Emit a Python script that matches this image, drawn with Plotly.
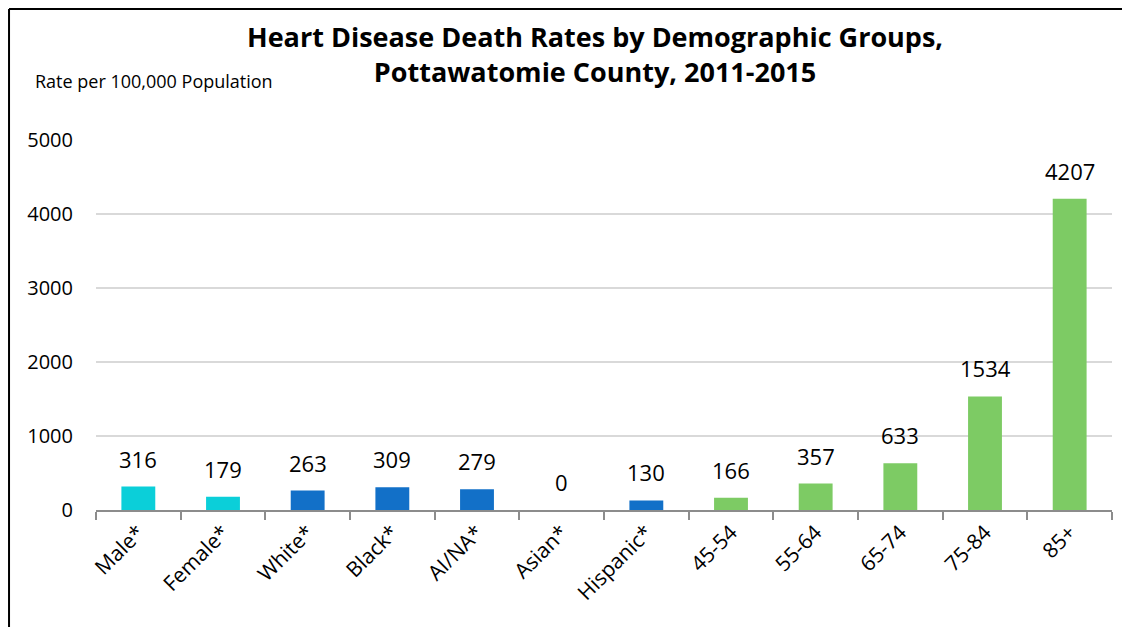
import plotly.graph_objects as go

# données du graphique
groupes = ['Male*', 'Female*', 'White*', 'Black*', 'AI/NA*', 'Asian*', 'Hispanic*',
           '45-54', '55-64', '65-74', '75-84', '85+']
taux = [316, 179, 263, 309, 279, 0, 130, 166, 357, 633, 1534, 4207]
couleurs = ['#0BCFD9'] * 2 + ['#1270C8'] * 5 + ['#7DCB64'] * 5
ticks_y = [0, 1000, 2000, 3000, 4000, 5000]

police = 'Open Sans'

fig = go.Figure(go.Bar(
    x=groupes,
    y=taux,
    marker=dict(color=couleurs, line=dict(width=0)),
))

# étiquettes de valeurs au-dessus des barres
for g, v in zip(groupes, taux):
    fig.add_annotation(
        x=g, y=v, text=str(v), showarrow=False,
        yanchor='bottom', yshift=11,
        font=dict(size=22, color='black', family=police),
    )

fig.update_layout(
    width=1130, height=627,
    margin=dict(l=88, r=26, t=132, b=125),
    paper_bgcolor='white', plot_bgcolor='white',
    font=dict(family=police, color='black'),
    bargap=0.6,
    showlegend=False,
)

fig.update_yaxes(
    range=[0, 5000], tickvals=ticks_y,
    showgrid=True, gridcolor='#D9D9D9', gridwidth=1.5,
    zeroline=False, showline=False,
    tickfont=dict(size=20), ticks='', ticklabelstandoff=22,
)
fig.update_xaxes(
    tickangle=-45, tickfont=dict(size=21),
    showline=True, linecolor='#8C8C8C', linewidth=2,
    ticks='outside', tickson='boundaries', ticklen=8, tickcolor='#8C8C8C', tickwidth=2,
)

# titre
fig.add_annotation(
    text='<b>Heart Disease Death Rates by Demographic Groups,<br>Pottawatomie County, 2011-2015</b>',
    xref='paper', yref='paper', x=0.491, y=1.232, xanchor='center', yanchor='middle',
    showarrow=False, font=dict(size=27, family=police), align='center',
)
fig.add_annotation(
    text='Rate per 100,000 Population',
    xref='paper', yref='paper', x=-0.062, y=1.159, xanchor='left', yanchor='middle',
    showarrow=False, font=dict(size=18, family=police),
)

# cadre (bord gauche et haut)
fig.add_shape(type='line', xref='paper', yref='paper', x0=-0.0856, x1=-0.0856, y0=-0.4, y1=1.354,
              line=dict(color='black', width=2))
fig.add_shape(type='line', xref='paper', yref='paper', x0=-0.0856, x1=1.1, y0=1.354, y1=1.354,
              line=dict(color='black', width=2))

fig.write_html('out.html')
